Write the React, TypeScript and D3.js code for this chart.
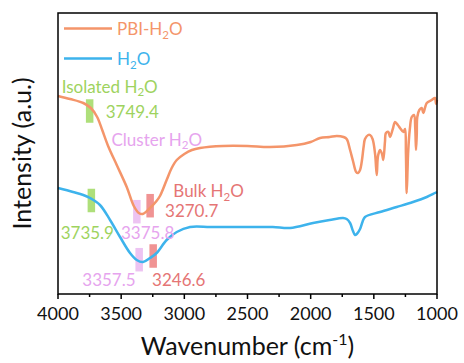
import React from 'react';
import * as d3 from 'd3';

// FTIR spectra (wavenumber in cm^-1, intensity in arbitrary units)
const pbiWavenumber = [
  4000, 3905, 3800, 3740, 3690, 3650, 3600, 3535, 3456, 3400, 3360, 3330, 3272, 3220, 3193, 3140,
  3100, 3060, 3000, 2940, 2876, 2694, 2500, 2322, 2110, 2000, 1926, 1850, 1794, 1740, 1715, 1688,
  1665, 1640, 1625, 1609, 1596, 1580, 1570, 1545, 1530, 1510, 1490, 1477, 1467, 1451, 1435, 1425,
  1412, 1404, 1385, 1372, 1350, 1332, 1310, 1293, 1266, 1253, 1246, 1240, 1233, 1229, 1215, 1200,
  1182, 1172, 1166, 1160, 1156, 1140, 1121, 1108, 1081, 1042, 1016, 1008, 1000,
];
const pbiIntensity = [
  198, 195, 191, 186, 177, 164, 147, 129, 107, 88, 81, 80, 86, 93, 98, 114,
  126, 134, 140, 144, 146, 148, 148, 147, 149, 152, 156, 157, 158, 157, 155, 144,
  133, 122, 121, 124, 132, 148, 155, 159, 159, 155, 140, 119, 138, 144, 140, 134,
  152, 161, 162, 157, 165, 172, 169, 166, 162, 165, 140, 101, 125, 140, 165, 177,
  179, 165, 144, 160, 177, 184, 186, 181, 191, 194, 196, 190, 194,
];

const waterWavenumber = [
  4000, 3881, 3800, 3747, 3668, 3588, 3509, 3430, 3377, 3327, 3272, 3219, 3140, 3060, 2955, 2800,
  2694, 2506, 2300, 2163, 1981, 1850, 1744, 1715, 1688, 1665, 1649, 1635, 1609, 1590, 1570, 1451,
  1319, 1190, 1081, 1016, 1000,
];
const waterIntensity = [
  106, 102, 99, 96, 89, 74, 57, 41, 34, 32, 36, 41, 54, 62, 67, 67,
  67, 67, 67, 66, 71, 74, 76, 75, 71, 63, 59, 60, 65, 72, 77, 82,
  87, 92, 97, 101, 102,
];

const seriesPrefixes = ['PBI-H', 'H'];
const seriesColors = ['#F4956A', '#3DB3EC'];

const xTicks = [4000, 3500, 3000, 2500, 2000, 1500, 1000];
const xMinorTicks = [3750, 3250, 2750, 2250, 1750, 1250];

// Water-type band positions marked on each spectrum
const peakWavenumbers = [3749.4, 3375.8, 3270.7, 3735.9, 3357.5, 3246.6];
const peakLevels = [183, 82.3, 88.3, 93.5, 34.3, 38];
const peakKinds = [0, 1, 2, 0, 1, 2];
const kindNames = ['Isolated H', 'Cluster H', 'Bulk H'];
const kindTextColors = ['#9ED35E', '#E6A4EE', '#E57575'];
const kindBarColors = ['#AEDF7A', '#EDC3F2', '#F09393'];

// label placement relative to each band marker (px)
const valueOffsets: [number, number][] = [
  [16, 7.3], [-15.9, 27.3], [14.9, 11.5], [-30.7, 38.5], [-56.9, 26], [-1.1, 29.7],
];
const kindLabelOffsets: [number, number][] = [
  [-28, -18.3], [-25.4, -66.2], [23.2, -8.6],
];

const W = 464;
const H = 363;
const M = { left: 58, right: 437, top: 13, bottom: 294 };
const FONT = 'Lato, "Open Sans", sans-serif';

function WaterText({ x, y, prefix, color, size }: { x: number; y: number; prefix: string; color: string; size: number }) {
  return (
    <text x={x} y={y} fill={color} fontSize={size} fontFamily={FONT}>
      <tspan>{prefix}</tspan>
      <tspan dy={3.5} fontSize={size * 0.68}>2</tspan>
      <tspan dy={-3.5}>O</tspan>
    </text>
  );
}

export default function App() {
  const x = d3.scaleLinear().domain([4000, 1000]).range([M.left, M.right]);
  const y = d3.scaleLinear().domain([0, 281]).range([M.bottom, M.top]);

  const line = d3
    .line<[number, number]>()
    .x((d) => x(d[0]))
    .y((d) => y(d[1]))
    .curve(d3.curveCatmullRom.alpha(0.5));

  const pbi = pbiWavenumber.map((w, i) => [w, pbiIntensity[i]] as [number, number]);
  const water = waterWavenumber.map((w, i) => [w, waterIntensity[i]] as [number, number]);

  const barW = 7.5;
  const barH = 23.5;

  return (
    <svg width={W} height={H} style={{ position: 'absolute', left: 0, top: 0, background: '#fff' }}>
      {/* band markers */}
      {peakWavenumbers.map((w, i) => (
        <rect
          key={'bar' + i}
          x={x(w) - barW / 2}
          y={y(peakLevels[i]) - barH / 2}
          width={barW}
          height={barH}
          fill={kindBarColors[peakKinds[i]]}
        />
      ))}

      {/* spectra */}
      <path d={line(pbi) || ''} fill="none" stroke={seriesColors[0]} strokeWidth={2.5} strokeLinejoin="round" />
      <path d={line(water) || ''} fill="none" stroke={seriesColors[1]} strokeWidth={2.5} strokeLinejoin="round" />

      {/* band values */}
      {peakWavenumbers.map((w, i) => (
        <text
          key={'val' + i}
          x={x(w) + valueOffsets[i][0]}
          y={y(peakLevels[i]) + valueOffsets[i][1]}
          fill={kindTextColors[peakKinds[i]]}
          fontSize={17}
          fontFamily={FONT}
        >
          {w.toFixed(1)}
        </text>
      ))}

      {/* band type names next to the PBI-H2O markers */}
      {kindNames.map((name, k) => (
        <WaterText
          key={'kind' + k}
          x={x(peakWavenumbers[k]) + kindLabelOffsets[k][0]}
          y={y(peakLevels[k]) + kindLabelOffsets[k][1]}
          prefix={name}
          color={kindTextColors[k]}
          size={17}
        />
      ))}

      {/* legend */}
      {seriesPrefixes.map((prefix, i) => (
        <g key={'leg' + i} transform={`translate(64, ${28.5 + i * 30})`}>
          <line x1={0} x2={48} y1={0} y2={0} stroke={seriesColors[i]} strokeWidth={2.5} />
          <WaterText x={53} y={6.5} prefix={prefix} color={seriesColors[i]} size={17} />
        </g>
      ))}

      {/* frame */}
      <rect
        x={M.left}
        y={M.top}
        width={M.right - M.left}
        height={M.bottom - M.top}
        fill="none"
        stroke="#000"
        strokeWidth={1.5}
      />

      {/* x axis ticks */}
      {xTicks.map((t) => (
        <g key={'t' + t}>
          <line x1={x(t)} x2={x(t)} y1={M.bottom} y2={M.bottom + 5} stroke="#000" strokeWidth={1.5} />
          <text x={x(t)} y={319.5} textAnchor="middle" fontSize={18} fontFamily={FONT} fill="#111">
            {t}
          </text>
        </g>
      ))}
      {xMinorTicks.map((t) => (
        <line key={'m' + t} x1={x(t)} x2={x(t)} y1={M.bottom} y2={M.bottom + 3} stroke="#000" strokeWidth={1.5} />
      ))}

      {/* axis titles */}
      <text x={(M.left + M.right) / 2} y={355} textAnchor="middle" fontSize={25} fontFamily={FONT} fill="#111">
        <tspan>Wavenumber (cm</tspan>
        <tspan dy={-10} fontSize={16}>-1</tspan>
        <tspan dy={10}>)</tspan>
      </text>
      <text
        transform={`translate(31, ${(M.top + M.bottom) / 2}) rotate(-90)`}
        textAnchor="middle"
        fontSize={25}
        fontFamily={FONT}
        fill="#111"
      >
        Intensity (a.u.)
      </text>
    </svg>
  );
}
